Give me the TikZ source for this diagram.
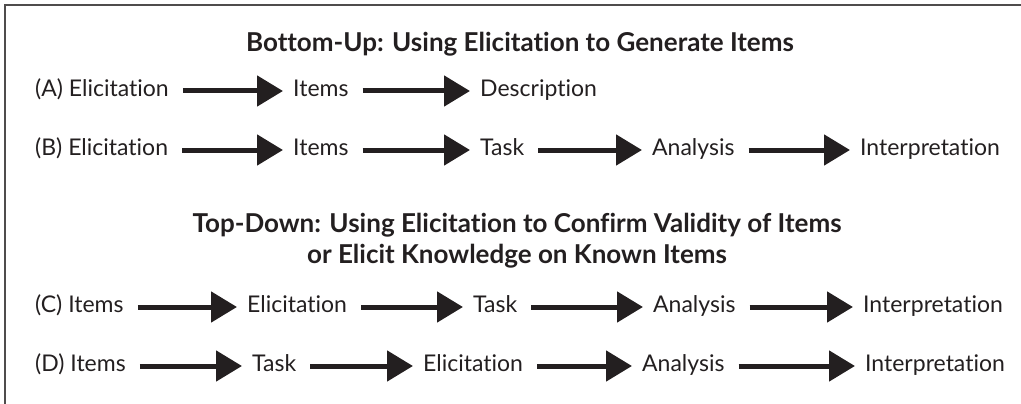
\documentclass[tikz,border=0pt]{standalone}
\usepackage{fontspec}
\setmainfont{Lato}[Ligatures={NoCommon,NoRare}]
\usepackage{tikz}
\usetikzlibrary{positioning,arrows.meta}

\definecolor{ink}{HTML}{231F20}

\begin{document}
\begin{tikzpicture}[x=1pt,y=-1pt,
  every node/.style={inner sep=0pt,text=ink,font=\fontsize{23}{27}\selectfont},
  word/.style={anchor=west,text height=16pt,text depth=5pt},
  head/.style={font=\fontsize{26}{31}\selectfont\bfseries,align=center},
  flow/.style={ink,line width=5pt,-{Triangle[length=26pt,width=30pt]},shorten <=14pt,shorten >=10pt}]
\useasboundingbox (0,0) rectangle (1021,404);
\draw[ink!80,line width=2pt] (5,404) -- (5,5) -- (1021,5);

% bottom-up
\node[head] (bu) at (520,44) {Bottom-Up: Using Elicitation to Generate Items};
\node[word] (a1) at (35,91) {(A) Elicitation};
\node[word] (a2) at (293,91) {Items};
\node[word] (a3) at (480,91) {Description};

\node[word] (b1) at (35,150) {(B) Elicitation};
\node[word] (b2) at (293,150) {Items};
\node[word] (b3) at (480,150) {Task};
\node[word] (b4) at (652,150) {Analysis};
\node[word] (b5) at (860,150) {Interpretation};

% top-down
\node[head] (td) at (517,241) {Top-Down: Using Elicitation to Confirm Validity of Items\\or Elicit Knowledge on Known Items};
\node[word] (c1) at (35,307) {(C) Items};
\node[word] (c2) at (247,307) {Elicitation};
\node[word] (c3) at (473,307) {Task};
\node[word] (c4) at (653,307) {Analysis};
\node[word] (c5) at (863,307) {Interpretation};

\node[word] (d1) at (35,366) {(D) Items};
\node[word] (d2) at (252,366) {Task};
\node[word] (d3) at (423,366) {Elicitation};
\node[word] (d4) at (642,366) {Analysis};
\node[word] (d5) at (865,366) {Interpretation};

\foreach \s/\t in {a1/a2,a2/a3,b1/b2,b2/b3,b3/b4,b4/b5,c1/c2,c2/c3,c3/c4,c4/c5,d1/d2,d2/d3,d3/d4,d4/d5}
  \draw[flow] (\s.east) -- (\t.west);
\end{tikzpicture}
\end{document}
